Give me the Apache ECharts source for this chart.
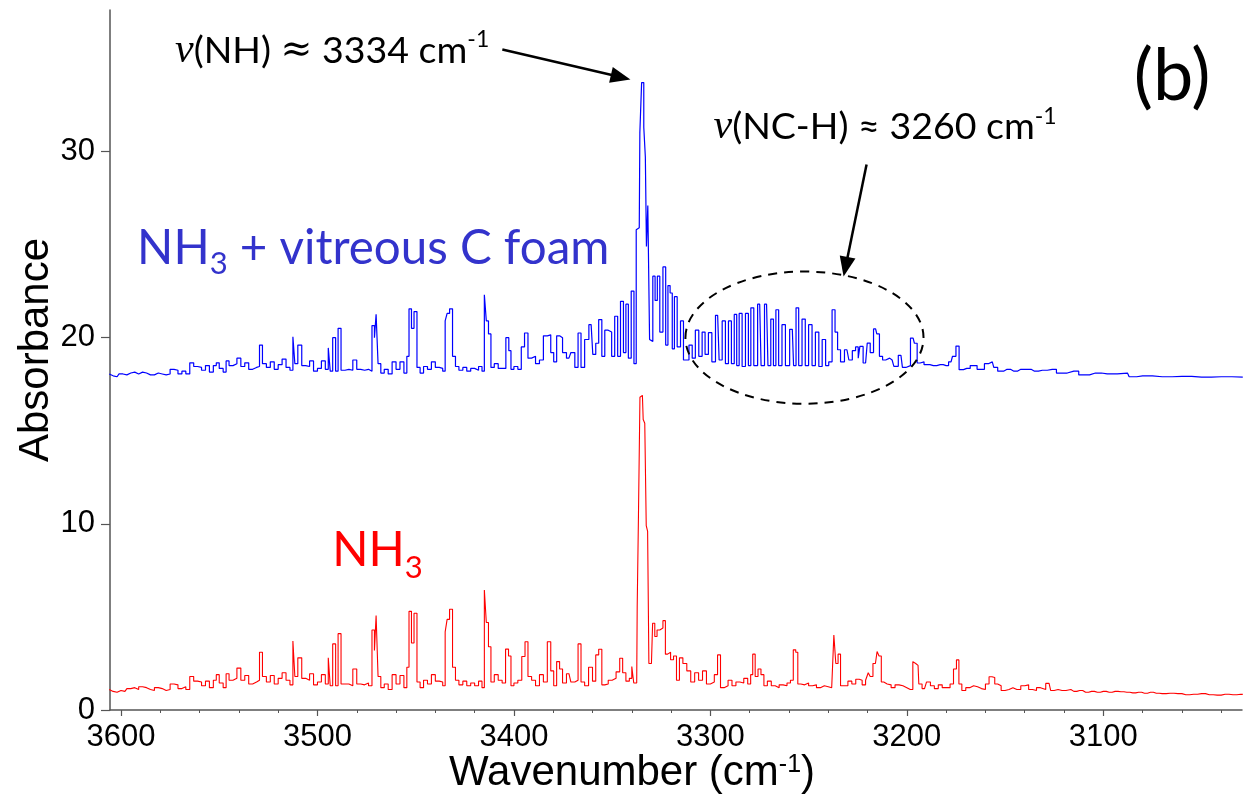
<!DOCTYPE html>
<html><head><meta charset="utf-8">
<script src="https://cdn.jsdelivr.net/npm/echarts@6/dist/echarts.min.js"></script>
<style>html,body{margin:0;padding:0;background:#fff}#c{width:1243px;height:795px}</style>
</head><body><div id="c"></div>
<script>
// ---------- DATA ----------
const nh3Wn = [3606,3604,3602,3600,3598,3596,3594,3592,3590,3588,3586,3584,3582,3580,3578,3576,3574,3572,3570,3568,3566,3564,3562,3560,3558,3556,3554,3552,3551,3549,3547,3546,3544,3542,3540,3538,3536,3534,3532,3530,3529,3527,3525,3523,3521,3519,3517,3515,3513,3512,3511,3509,3507,3505,3503,3501,3499,3497,3495,3494,3493,3491.5,3490,3489,3487,3485,3483,3481,3479,3477,3475,3473,3471.5,3470.5,3469.8,3468.5,3467,3465,3463,3461,3459,3457,3455,3454,3452.8,3451.5,3450.2,3448.5,3447,3445,3443,3441,3439,3437,3435.5,3434.5,3433.5,3432,3430.5,3429,3427,3425,3423,3421,3419,3417,3415.5,3414.6,3413.5,3412.4,3411,3409,3407,3405,3403.5,3402,3401,3399,3397,3395,3393.7,3392,3390,3388,3386,3384,3382,3380.5,3379,3377.5,3376,3374.5,3372,3370,3368,3366.7,3365,3363,3361,3359,3357.7,3356,3354.5,3353,3351,3349,3347,3345.3,3344,3342,3340.5,3339.5,3338.5,3337.5,3337,3336.2,3335.5,3334.6,3333.8,3333.0,3332.3,3331.6,3331,3330,3328.8,3327.8,3326.5,3325,3323.3,3322.5,3321,3319.5,3318,3316.5,3315,3313,3311,3309,3307,3305,3303,3301,3299,3297,3295.7,3294,3292,3290,3288,3286,3284,3282,3280,3279,3277.9,3276.5,3275,3273.5,3272,3270,3268,3266,3264,3262,3260,3258.5,3257.1,3256,3255,3253,3251,3249,3247,3245,3243,3241,3239,3237.5,3236.8,3235.5,3234.5,3233,3231,3229,3227,3225,3223.5,3222,3220,3219.3,3218,3216.5,3215.5,3214.8,3213.5,3212.5,3211,3209,3207,3205,3203,3201,3199,3197.5,3196.4,3195.5,3194.3,3193.5,3191,3189,3187,3185,3183,3181,3179,3177,3175.5,3174,3173,3171,3169,3167,3165,3163,3161,3159,3157.3,3156,3154.5,3153,3151,3149,3147,3145,3143,3141,3139,3137,3135,3133,3131,3127.6,3126,3124,3122,3120,3118,3115,3112,3109,3106,3103,3100,3097,3094,3091,3088,3085,3082,3079,3076,3073,3070,3066,3062,3058,3054,3050,3046,3042,3038,3034,3030,3029];
const nh3Abs = [1.10,1.00,0.95,1.05,1.00,1.15,1.20,1.10,1.25,1.20,1.10,1.05,1.20,1.15,1.05,1.10,1.40,1.35,1.15,1.25,1.10,1.80,1.55,1.50,1.30,1.55,1.20,1.60,1.90,1.45,1.20,1.95,1.60,1.70,2.25,1.60,1.85,1.40,1.50,1.60,3.10,1.80,1.50,1.85,1.40,1.70,2.00,1.60,1.35,3.70,1.80,2.80,1.70,1.60,1.95,1.35,1.50,1.90,1.40,2.80,1.30,3.55,1.30,4.10,1.40,1.40,1.30,2.20,1.40,1.35,1.45,1.30,4.30,3.20,5.07,1.80,1.20,1.40,1.10,1.90,1.40,1.85,1.20,2.30,5.30,3.60,5.20,1.50,1.20,1.60,1.40,1.90,1.55,1.50,1.30,4.20,4.87,5.41,2.30,1.60,1.35,1.55,1.30,1.45,1.30,1.55,1.20,6.45,4.70,3.40,1.50,1.90,1.60,1.45,3.27,2.90,1.30,1.45,1.60,2.87,3.67,1.80,1.60,1.30,1.90,1.50,3.67,2.10,1.30,2.60,2.20,1.45,1.95,1.50,1.60,3.55,1.50,1.30,2.30,1.55,2.96,3.26,1.35,1.40,1.60,1.70,2.05,2.78,2.00,1.55,1.70,2.33,1.45,1.45,5.56,10.5,16.8,16.9,15.6,15.4,9.9,9.6,2.5,2.5,4.66,3.95,4.3,4.4,4.80,3.0,3.1,2.7,2.9,1.6,2.8,2.5,2.1,1.5,2.0,1.6,2.1,1.4,1.5,1.9,2.96,1.2,1.3,1.6,1.3,1.5,1.45,1.7,1.4,1.9,3.0,1.8,2.2,1.9,1.3,1.55,1.3,1.2,1.35,1.3,1.45,1.6,3.23,3.1,1.4,1.35,1.45,1.3,1.35,1.2,1.3,1.25,1.2,1.3,4.03,2.5,3.0,1.3,1.3,1.55,1.40,1.65,1.6,1.35,1.6,2.0,1.8,2.5,2.4,3.14,2.9,1.5,1.4,1.35,1.2,1.35,1.3,1.2,1.1,1.1,2.6,2.5,2.4,1.4,1.15,1.50,1.3,1.15,1.35,1.2,1.2,1.4,2.2,2.69,1.4,1.05,1.2,1.3,1.25,1.15,1.1,1.4,1.79,1.75,1.4,1.3,1.05,1.1,1.2,1.1,1.1,1.3,1.35,1.1,1.05,1.2,1.1,1.43,1.05,1.10,1.05,1.05,1.10,1.00,1.05,0.95,1.0,0.95,1.00,0.95,1.00,0.98,0.95,0.92,0.95,0.90,0.95,0.90,0.88,0.90,0.88,0.82,0.85,0.88,0.82,0.80,0.85,0.82,0.85,0.84];

const foamWn = [3606,3604,3602,3600,3598,3596,3594,3592,3590,3588,3586,3584,3582,3580,3578,3576,3574,3572,3570,3568,3566,3564,3562,3560,3558,3556,3554,3552,3551,3549,3547,3546,3544,3542,3540,3538,3536,3534,3532,3530,3529,3527,3525,3523,3521,3519,3517,3515,3513,3512,3511,3509,3507,3505,3503,3501,3499,3497,3495,3494,3493,3491.5,3490,3489,3487,3485,3483,3481,3479,3477,3475,3473,3471.5,3470.5,3469.8,3468.5,3467,3465,3463,3461,3459,3457,3455,3454,3452.8,3451.5,3450.2,3448.5,3447,3445,3443,3441,3439,3437,3435.5,3434.5,3433.5,3432,3430.5,3429,3427,3425,3423,3421,3419,3417,3415.5,3414.6,3413.5,3412.4,3411,3409,3407,3405,3403.2,3402,3401,3399,3397,3395.5,3393.7,3392,3390,3388,3386,3384,3382,3380.5,3379,3377.5,3376,3374.5,3372,3370,3368,3366.7,3365,3363,3360.7,3359,3357.7,3356,3354.5,3353,3351,3349.5,3347.9,3346.5,3345,3343.5,3342.5,3341,3339.6,3338.2,3337.3,3336.2,3335.6,3334.4,3333.4,3332.8,3332.3,3331.4,3330.5,3329.8,3328.8,3327.5,3326.5,3325,3323.3,3322.2,3321,3320,3318.8,3317.8,3316,3314.4,3313,3311.8,3310,3308.5,3306.8,3305,3303.4,3302,3300,3298.5,3296.3,3294.8,3293.2,3291.5,3290.1,3288.5,3287.2,3286,3284.7,3283,3281.3,3280,3278.8,3277,3274.9,3273.5,3271.4,3270,3268.5,3267.3,3266,3264.5,3262.6,3261,3258.3,3257,3255.8,3254.3,3252.4,3251,3249,3247.5,3245.6,3244,3242.2,3240.5,3239,3237.1,3236,3234.5,3233,3230.5,3228.5,3227,3225.2,3224.3,3223.5,3221,3219.3,3218,3215.9,3214.7,3213.2,3211.5,3210,3207.5,3205.7,3203,3201.5,3199.5,3196.8,3195.5,3194,3192.5,3190,3186.5,3183,3180,3177.5,3176,3174,3172.8,3169.5,3166,3162.5,3158.5,3156.5,3155,3152.5,3149,3145.5,3142,3138.5,3135,3131,3126,3121.7,3115,3110,3104,3098,3087.7,3086,3080,3070,3060,3050,3040,3029];
const foamAbs = [18.05,17.95,17.90,18.05,18.00,18.10,18.15,18.05,18.15,18.10,18.00,18.00,18.10,18.05,18.00,18.05,18.30,18.25,18.05,18.20,18.05,18.65,18.45,18.40,18.25,18.50,18.15,18.50,18.65,18.35,18.15,18.75,18.50,18.60,18.90,18.45,18.65,18.30,18.40,18.45,19.60,18.60,18.40,18.70,18.30,18.55,18.85,18.40,18.25,20.05,18.60,19.60,18.50,18.45,18.75,18.20,18.35,18.75,18.30,19.45,18.20,20.00,18.20,20.50,18.25,18.30,18.25,18.80,18.30,18.25,18.30,18.20,20.65,20.00,21.25,18.60,18.10,18.30,18.05,18.70,18.30,18.70,18.10,19.00,21.55,20.50,21.40,18.40,18.10,18.45,18.30,18.70,18.40,18.35,18.20,20.90,21.30,21.55,19.00,18.45,18.25,18.40,18.20,18.35,18.25,18.45,18.20,22.30,20.90,20.20,18.40,18.60,18.35,18.35,20.00,19.30,18.30,18.45,18.30,19.50,20.25,18.90,19.00,18.60,18.80,20.10,20.15,19.20,18.70,20.10,20.00,19.20,18.90,19.20,18.40,20.25,18.40,19.90,20.70,19.10,19.70,20.97,19.00,20.40,20.30,19.00,21.15,19.00,21.95,19.20,21.80,18.90,22.50,18.60,25.80,25.90,31.00,33.70,31.30,29.70,24.90,27.10,19.90,19.80,23.30,22.00,23.30,20.30,23.80,19.60,22.80,22.40,19.40,22.20,19.50,20.90,18.80,18.80,19.60,18.90,20.40,19.00,20.30,19.10,20.27,18.70,21.20,18.80,20.90,18.60,20.90,18.60,21.25,18.50,21.30,18.45,21.30,18.50,21.60,18.50,21.80,18.50,21.80,18.50,21.00,18.50,21.50,18.50,20.70,18.50,20.45,18.50,21.60,18.50,21.00,18.50,20.70,18.50,20.30,18.45,19.90,18.50,18.70,21.50,20.30,19.35,18.70,19.35,18.80,19.30,19.50,18.90,19.53,18.64,19.71,19.20,20.47,20.20,19.00,18.80,18.90,18.80,18.46,19.05,18.40,18.50,19.98,19.70,18.64,18.70,18.55,18.50,18.55,18.50,18.70,19.00,19.55,18.28,18.35,18.50,18.30,18.60,18.70,18.40,18.20,18.30,18.20,18.30,18.30,18.20,18.25,18.30,18.10,18.20,18.00,18.10,18.05,18.10,17.90,17.95,17.90,17.92,17.88,17.90,17.88];

const xTicks = [3600, 3500, 3400, 3300, 3200, 3100];
const xMinorTicks = [3040,3060,3080,3120,3140,3160,3180,3220,3240,3260,3280,3320,3340,3360,3380,3420,3440,3460,3480,3520,3540,3560,3580];
const yTicks = [0, 10, 20, 30];
const xRange = [3029.4, 3605.6];
const yRange = [0, 37.6];

// ---------- CHART ----------
const AX = 'Liberation Sans, Arial, sans-serif';
const TX = 'Lato, sans-serif';
const chart = echarts.init(document.getElementById('c'));
const axisCol = '#555';
const option = {
  animation: false,
  backgroundColor: '#fff',
  grid: { left: 110, right: 1, top: 10, bottom: 85, containLabel: false, outerBoundsMode: 'none' },
  xAxis: [{
    type: 'value', inverse: true, min: xRange[0], max: xRange[1], position: 'bottom',
    axisLine: { show: true, onZero: false, lineStyle: { color: axisCol, width: 1.5 } },
    axisTick: { show: true, customValues: xTicks, length: 6, lineStyle: { color: axisCol, width: 1.2 } },
    axisLabel: { customValues: xTicks, margin: 12, color: '#000', fontSize: 31, fontFamily: AX, formatter: v => String(v) },
    splitLine: { show: false }
  }, {
    type: 'value', inverse: true, min: xRange[0], max: xRange[1], position: 'bottom',
    axisLine: { show: false, onZero: false },
    axisTick: { show: true, customValues: xMinorTicks, length: 3, lineStyle: { color: axisCol, width: 1 } },
    axisLabel: { show: false },
    splitLine: { show: false }
  }],
  yAxis: {
    type: 'value', min: yRange[0], max: yRange[1],
    axisLine: { show: true, onZero: false, lineStyle: { color: axisCol, width: 1.5 } },
    axisTick: { show: true, customValues: yTicks, length: 9, lineStyle: { color: axisCol, width: 1.2 } },
    axisLabel: { customValues: yTicks, margin: 15, color: '#000', fontSize: 31, fontFamily: AX, formatter: v => String(v) },
    splitLine: { show: false }
  },
  series: [{
    name: 'NH3 + vitreous C foam', type: 'line', step: 'middle', showSymbol: false,
    data: foamWn.map((w, i) => [w, foamAbs[i]]),
    lineStyle: { color: '#0000ff', width: 1.2 }, z: 3
  }, {
    name: 'NH3', type: 'line', step: 'middle', showSymbol: false,
    data: nh3Wn.map((w, i) => [w, nh3Abs[i]]),
    lineStyle: { color: '#ff0000', width: 1.1 }, z: 3
  }]
};
chart.setOption(option);

function P(x, y) { return chart.convertToPixel({ seriesIndex: 0 }, [x, y]); }
function arrow(from, to, w, hl, hw) {
  const a = P(from[0], from[1]), b = P(to[0], to[1]);
  const dx = b[0] - a[0], dy = b[1] - a[1], L = Math.hypot(dx, dy);
  const ux = dx / L, uy = dy / L, nx = -uy, ny = ux;
  const base = [b[0] - ux * hl, b[1] - uy * hl];
  return [
    { type: 'line', shape: { x1: a[0], y1: a[1], x2: base[0] + ux * 2, y2: base[1] + uy * 2 }, style: { stroke: '#000', lineWidth: w } },
    { type: 'polygon', shape: { points: [b, [base[0] + nx * hw / 2, base[1] + ny * hw / 2], [base[0] - nx * hw / 2, base[1] - ny * hw / 2]] }, style: { fill: '#000' } }
  ];
}
function label(pos, text, size, color, rich) {
  const p = P(pos[0], pos[1]);
  return { type: 'text', x: p[0], y: p[1], z: 10,
    style: { text: text, fontSize: size, fontFamily: TX, fill: color, textAlign: 'left', align: 'left',
             textVerticalAlign: 'middle', verticalAlign: 'middle', rich: rich } };
}
const ec = P(3252.1, 20.0), er = P(3252.1 - 60.6, 20.0 + 3.55);
const graphics = [].concat(
  [label([3572.5, 35.4], '{nu|ν}(NH) {ap|≈} 3334 cm{sup|-1}', 37.5, '#000', {
      nu: { fontSize: 42, fontFamily: 'Liberation Serif, serif', fontStyle: 'italic', fill: '#000' },
      ap: { fontSize: 38, fontFamily: 'DejaVu Serif, serif', fill: '#000' },
      sup: { fontSize: 23, fontFamily: TX, fill: '#000', padding: [0, 0, 22, 0] } })],
  arrow([3405.9, 35.48], [3340.7, 33.87], 2.5, 20, 16),
  [label([3298.4, 31.3], '{nu|ν}(NC-H) ≈ 3260 cm{sup|-1}', 37.5, '#000', {
      nu: { fontSize: 42, fontFamily: 'Liberation Serif, serif', fontStyle: 'italic', fill: '#000' },
      sup: { fontSize: 23, fontFamily: TX, fill: '#000', padding: [0, 0, 22, 0] } })],
  arrow([3220.5, 29.3], [3232.2, 23.28], 2.5, 20, 16),
  [{ type: 'ellipse', z: 9, shape: { cx: ec[0], cy: ec[1], rx: Math.abs(ec[0] - er[0]), ry: Math.abs(ec[1] - er[1]) },
     style: { fill: 'none', stroke: '#000', lineWidth: 2, lineDash: [9, 7] } }],
  [label([3084.5, 34.0], '(b)', 72, '#000', {})],
  [label([3591.8, 24.8], 'NH{sub|3} + vitreous C foam', 47.5, '#3333cc', {
      sub: { fontSize: 31, fontFamily: TX, fill: '#3333cc', padding: [32, 0, 0, 0] } })],
  [label([3492.5, 8.55], 'NH{sub|3}', 47.5, '#ff0000', {
      sub: { fontSize: 31, fontFamily: TX, fill: '#ff0000', padding: [34, 0, 0, 0] } })],
  [{ type: 'text', x: 632, y: 773, z: 10, style: { text: 'Wavenumber (cm{sup|-1})', fontSize: 42, fontFamily: AX, fill: '#000',
      textAlign: 'center', align: 'center', textVerticalAlign: 'middle', verticalAlign: 'middle',
      rich: { sup: { fontSize: 25, fontFamily: AX, fill: '#000', padding: [0, 0, 16, 0] } } } },
   { type: 'text', x: 36, y: 350, rotation: Math.PI / 2, z: 10, style: { text: 'Absorbance', fontSize: 42, fontFamily: AX, fill: '#000',
      textAlign: 'center', align: 'center', textVerticalAlign: 'middle', verticalAlign: 'middle' } }]
);
chart.setOption({ graphic: { elements: graphics } });
</script>
</body></html>
